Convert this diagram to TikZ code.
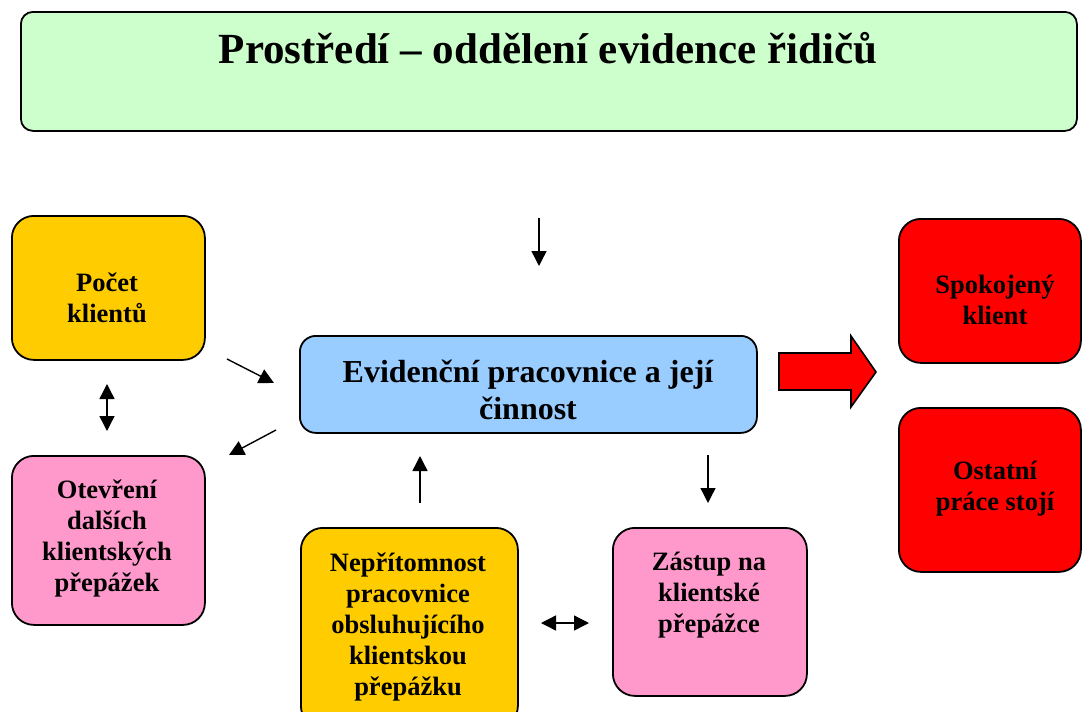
\documentclass[tikz,border=0pt]{standalone}
\usepackage{fontspec}
\setmainfont{Liberation Serif}
\usetikzlibrary{arrows.meta}
\definecolor{titlegreen}{HTML}{CCFFCC}
\definecolor{boxgold}{HTML}{FFCC00}
\definecolor{boxpink}{HTML}{FF99CC}
\definecolor{boxblue}{HTML}{99CCFF}
\definecolor{boxred}{HTML}{FF0000}
\begin{document}
\begin{tikzpicture}[x=1pt,y=-1pt,
  box/.style={draw=black, line width=1.8pt, rounded corners=22pt, inner sep=0pt, anchor=north west},
  boxtext/.style={font=\bfseries\fontsize{26.5}{31}\selectfont, align=center, inner sep=0pt},
  arr/.style={line width=1.4pt, -{Triangle[length=15pt,width=15pt]}},
  dblarr/.style={line width=1.4pt, {Triangle[length=15pt,width=15pt]}-{Triangle[length=15pt,width=15pt]}}
]
\useasboundingbox (0,0) rectangle (1082,712);
\fill[white] (0,0) rectangle (1082,712);

% boxes
\node[box, rounded corners=12pt, fill=titlegreen, minimum width=1056pt, minimum height=119pt] (title) at (20,11) {};
\node[box, fill=boxgold, minimum width=193pt, minimum height=144pt] (pocet) at (11,215) {};
\node[box, fill=boxpink, minimum width=193pt, minimum height=169pt] (otev) at (11,455) {};
\node[box, rounded corners=16pt, fill=boxblue, minimum width=457pt, minimum height=97pt] (evid) at (299,335) {};
\node[box, fill=boxred, minimum width=182pt, minimum height=144pt] (spok) at (898,218) {};
\node[box, fill=boxred, minimum width=182pt, minimum height=164pt] (ostat) at (898,407) {};
\node[box, fill=boxgold, minimum width=217pt, minimum height=200pt] (nepr) at (300,527) {};
\node[box, fill=boxpink, minimum width=194pt, minimum height=168pt] (zast) at (612,527) {};

% texts
\node[font=\bfseries\fontsize{43}{50}\selectfont, inner sep=0pt, anchor=base] (titletext) at (548,63) {Prostředí – oddělení evidence řidičů};
\node[boxtext] (pocett) at (107,298) {Počet\\klientů};
\node[boxtext] (otevt) at (107,538) {Otevření\\dalších\\klientských\\přepážek};
\node[boxtext, font=\bfseries\fontsize{32}{37}\selectfont] (evidt) at (528,390) {Evidenční pracovnice a její\\činnost};
\node[boxtext] (spokt) at (995,300) {Spokojený\\klient};
\node[boxtext] (ostatt) at (995,489) {Ostatní\\práce stojí};
\node[boxtext] (neprt) at (408,627) {Nepřítomnost\\pracovnice\\obsluhujícího\\klientskou\\přepážku};
\node[boxtext] (zastt) at (709,595) {Zástup na\\klientské\\přepážce};

% big red arrow
\path[draw=black, line width=1.6pt, fill=boxred, line join=miter]
  (779,353) -- (851,353) -- (851,336) -- (876,372) -- (851,407) -- (851,390) -- (779,390) -- cycle;

% arrow end points
\coordinate (a1s) at (539,218); \coordinate (a1e) at (539,266);
\coordinate (a2s) at (227,359); \coordinate (a2e) at (274,383);
\coordinate (a3s) at (276,430); \coordinate (a3e) at (229,455);
\coordinate (a4s) at (107,384); \coordinate (a4e) at (107,431);
\coordinate (a5s) at (420,503); \coordinate (a5e) at (420,456);
\coordinate (a6s) at (708,455); \coordinate (a6e) at (708,503);
\coordinate (a7s) at (541,623); \coordinate (a7e) at (589,623);

\draw[arr] (a1s) -- (a1e);
\draw[arr] (a2s) -- (a2e);
\draw[arr] (a3s) -- (a3e);
\draw[dblarr] (a4s) -- (a4e);
\draw[arr] (a5s) -- (a5e);
\draw[arr] (a6s) -- (a6e);
\draw[dblarr] (a7s) -- (a7e);
\end{tikzpicture}
\end{document}
